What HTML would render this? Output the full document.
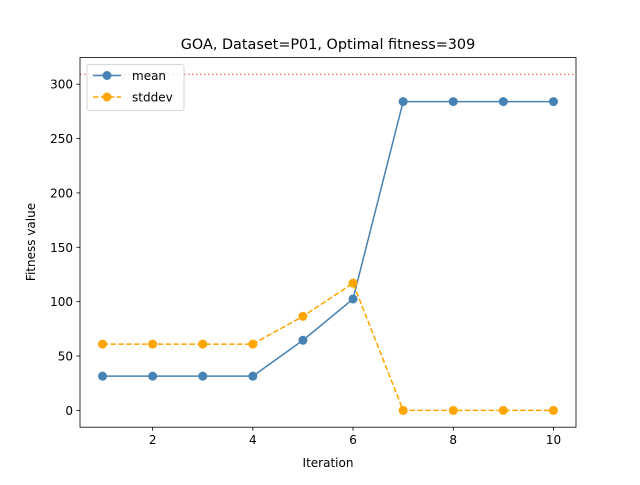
<!DOCTYPE html>
<html><head><meta charset="utf-8"><style>
body{margin:0;background:#fff;}
svg text{font-family:"DejaVu Sans","Liberation Sans",sans-serif;fill:#000;}
</style></head><body>
<svg id="chart" width="640" height="480" xmlns="http://www.w3.org/2000/svg">
<rect width="640" height="480" fill="#fff"/>
<text x="328" y="49" font-size="14.4" text-anchor="middle">GOA, Dataset=P01, Optimal fitness=309</text>
<g id="plot"></g>
<rect x="80" y="57.6" width="496" height="369.6" fill="none" stroke="#000" stroke-width="0.8"/>
<text x="328" y="467" font-size="12" text-anchor="middle">Iteration</text>
<text transform="translate(35,242) rotate(-90)" font-size="12" text-anchor="middle">Fitness value</text>
<g>
<rect x="87" y="64.6" width="97" height="46" rx="2" fill="#fff" fill-opacity="0.8" stroke="#ccc" stroke-width="0.8"/>
<g>
<line x1="93" y1="75.5" x2="121" y2="75.5" stroke="#4682b4" stroke-width="1.5"/>
<circle cx="107" cy="75.5" r="4.5" fill="#4682b4"/>
<text x="132" y="80" font-size="12">mean</text></g>
<g>
<line x1="93" y1="97" x2="121" y2="97" stroke="#ffa500" stroke-width="1.5" stroke-dasharray="5.5,2.4"/>
<circle cx="107" cy="97" r="4.5" fill="#ffa500"/>
<text x="132" y="101.5" font-size="12">stddev</text></g>
</g>
</svg>
<script>
const iterations=[1,2,3,4,5,6,7,8,9,10];
const meanValues=[31.5,31.5,31.5,31.5,64.5,102.5,284,284,284,284];
const stddevValues=[61,61,61,61,86.5,117,0,0,0,0];
const optimal=309;
const xTicks=[2,4,6,8,10];
const yTicks=[0,50,100,150,200,250,300];
const X0=80,X1=576,Y0=427.2,Y1=57.6;
const xmin=0.55,xmax=10.45,ymin=-15.45,ymax=324.45;
const sx=v=>X0+(v-xmin)/(xmax-xmin)*(X1-X0);
const sy=v=>Y0-(v-ymin)/(ymax-ymin)*(Y0-Y1);
const NS="http://www.w3.org/2000/svg";
const g=document.getElementById('plot');
function mk(t,a){const e=document.createElementNS(NS,t);for(const k in a)e.setAttribute(k,a[k]);g.appendChild(e);return e;}
xTicks.forEach(t=>{
 const l=mk('line',{x1:sx(t),x2:sx(t),y1:Y0,y2:Y0+3.5,stroke:'#000','stroke-width':0.8});
 
 
 const tx=mk('text',{x:sx(t),y:Y0+17,'font-size':12,'text-anchor':'middle'});tx.textContent=t;
 
 
});
yTicks.forEach(t=>{
 const l=mk('line',{x1:X0-3.5,x2:X0,y1:sy(t),y2:sy(t),stroke:'#000','stroke-width':0.8});
 
 
 const tx=mk('text',{x:X0-7,y:sy(t)+4.5,'font-size':12,'text-anchor':'end'});tx.textContent=t;
 
 
});
const opt=mk('line',{x1:X0,x2:X1,y1:sy(optimal),y2:sy(optimal),stroke:'#f08080','stroke-width':1.5,'stroke-dasharray':'1.5,2.5'});


function series(vals,color,dash,name){
 const p=mk('polyline',{points:iterations.map((x,i)=>sx(x)+','+sy(vals[i])).join(' '),fill:'none',stroke:color,'stroke-width':1.5,'stroke-dasharray':dash});
 
 
 iterations.forEach((x,i)=>{
  const c=mk('circle',{cx:sx(x),cy:sy(vals[i]),r:4.5,fill:color});
  
  
 });
}
series(meanValues,'#4682b4','none','mean');
series(stddevValues,'#ffa500','5.5,2.4','stddev');
</script>
</body></html>
